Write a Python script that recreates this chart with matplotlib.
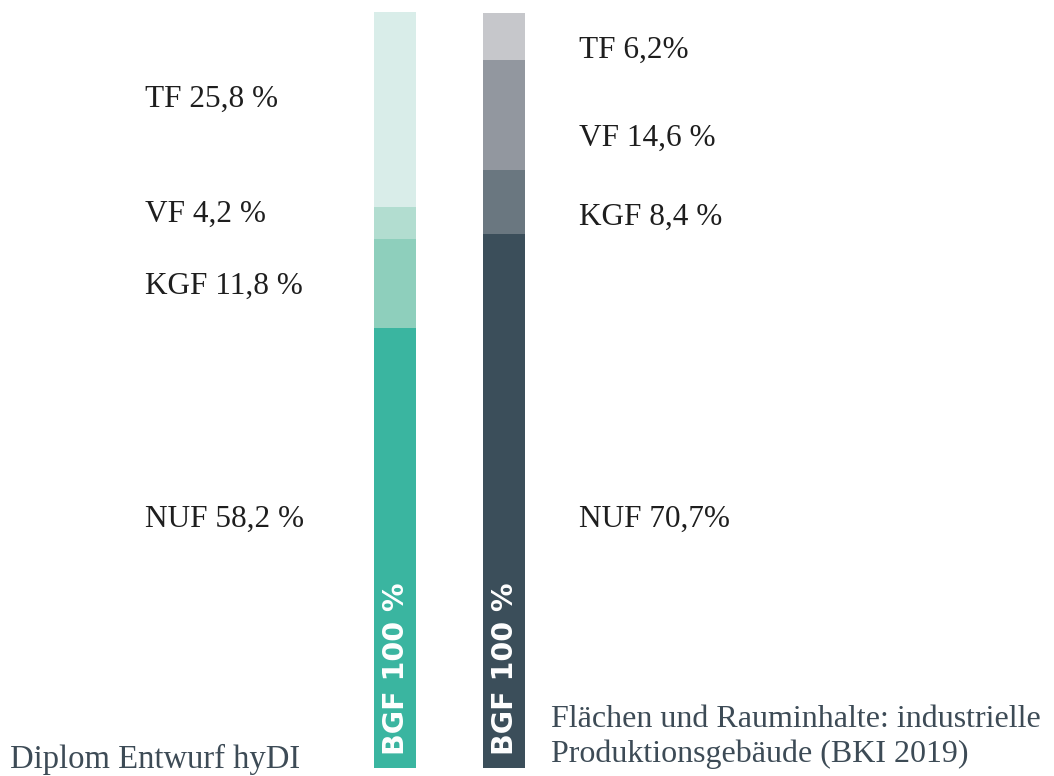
import matplotlib.pyplot as plt

# Flaechenanteile an der BGF (%), von unten nach oben gestapelt
segmente = ['NUF', 'KGF', 'VF', 'TF']
hydi_werte = [58.2, 11.8, 4.2, 25.8]
bki_werte = [70.7, 8.4, 14.6, 6.2]

hydi_labels = ['NUF 58,2 %', 'KGF 11,8 %', 'VF 4,2 %', 'TF 25,8 %']
bki_labels = ['NUF 70,7%', 'KGF 8,4 %', 'VF 14,6 %', 'TF 6,2%']

hydi_farben = ['#3ab5a0', '#8ecfbc', '#b2ddd0', '#d9ede9']
bki_farben = ['#3b4e5a', '#6a7780', '#92979f', '#c6c7cb']

# Textpositionen (Grundlinie, in % der Balkenhoehe)
hydi_label_y = [31.9, 62.7, 72.2, 87.4]
bki_label_y = [31.9, 71.9, 82.3, 93.9]

serif = 'Liberation Serif'
text_farbe = '#1e1e1e'
caption_farbe = '#3d4b56'

W, H = 1054, 776
fig = plt.figure(figsize=(W / 100, H / 100), dpi=100)

# Achse deckt die Balkenhoehe ab: oben y=12 px, unten y=768 px
ax = fig.add_axes([0, (H - 768) / H, 1, 756 / H])
ax.set_xlim(0, W)
ax.set_ylim(0, 100)
ax.axis('off')

x_hydi, x_bki, breite = 395, 504, 42


def stapel(x, werte, farben):
    unten = 0
    for wert, farbe in zip(werte, farben):
        ax.bar(x, wert, bottom=unten, width=breite, color=farbe, linewidth=0)
        unten += wert


stapel(x_hydi, hydi_werte, hydi_farben)
stapel(x_bki, bki_werte, bki_farben)

for txt, y in zip(hydi_labels, hydi_label_y):
    ax.text(145, y, txt, family=serif, fontsize=22.5, color=text_farbe,
            ha='left', va='baseline')
for txt, y in zip(bki_labels, bki_label_y):
    ax.text(579, y, txt, family=serif, fontsize=22.5, color=text_farbe,
            ha='left', va='baseline')

# BGF-Beschriftung im Balken
for x in (x_hydi, x_bki):
    ax.text(x + 1, 1.7, 'BGF 100 %', rotation=90, color='white',
            family='DejaVu Sans', fontweight='bold', fontsize=20.5,
            ha='center', va='bottom')

fig.text(10 / W, 1 - 768 / H, 'Diplom Entwurf hyDI', family=serif,
         fontsize=23.5, color=caption_farbe, ha='left', va='baseline')
fig.text(551 / W, 1 - 727 / H, 'Flächen und Rauminhalte: industrielle',
         family=serif, fontsize=23, color=caption_farbe, ha='left', va='baseline')
fig.text(551 / W, 1 - 762 / H, 'Produktionsgebäude (BKI 2019)',
         family=serif, fontsize=23, color=caption_farbe, ha='left', va='baseline')

fig.savefig('out.png', dpi=100, facecolor='white')
